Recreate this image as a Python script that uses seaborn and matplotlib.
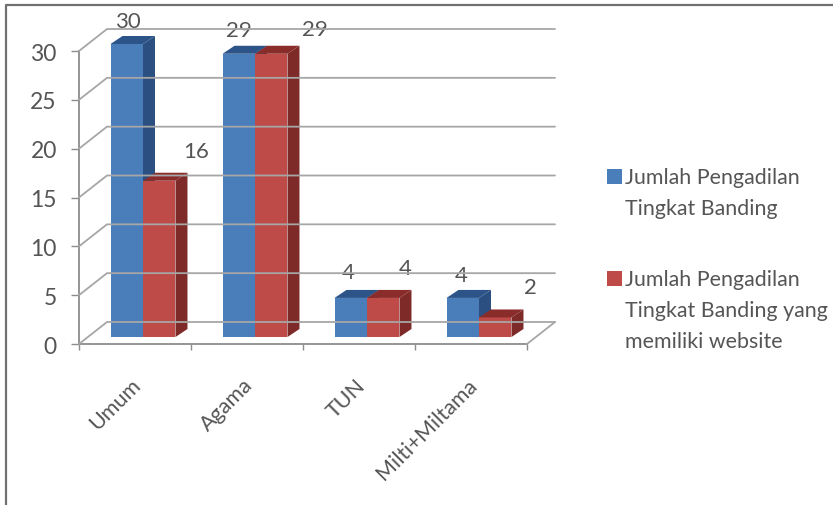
import numpy as np
import pandas as pd
import matplotlib
matplotlib.use('Agg')
import matplotlib.pyplot as plt
import seaborn as sns
from matplotlib.lines import Line2D
from matplotlib.patches import Polygon, Rectangle
from matplotlib.transforms import Affine2D, IdentityTransform

categories = ['Umum', 'Agama', 'TUN', 'Milti+Miltama']
series_names = ['Jumlah Pengadilan Tingkat Banding',
                'Jumlah Pengadilan Tingkat Banding yang memiliki website']
jumlah_banding = [30, 29, 4, 4]
jumlah_website = [16, 29, 4, 2]
legend_labels = ['Jumlah Pengadilan\nTingkat Banding',
                 'Jumlah Pengadilan\nTingkat Banding yang\nmemiliki website']
y_ticks = [0, 5, 10, 15, 20, 25, 30]

W, H = 833, 506
TEXT = '#555555'
AXIS = '#8c8c8c'
GRID = '#a6a6a6'
front_colors = ['#4A7EBB', '#BE4B48']
side_colors = ['#2A4F80', '#7E2A28']
top_colors = ['#2C5488', '#8A2D2A']

# wall depth and bar offset/depth, in pixels
WALL_DX, WALL_DY = 28, 22
BAR_DX, BAR_DY = 8, 7
DEPTH_DX, DEPTH_DY = 12, 8

# where the labels sit relative to the top of each bar, in pixels
label_offsets = [[(1, 23), (0, 24), (-3, 26), (-2, 23)],
                 [(37, 30), (44, 25), (22, 30), (35, 30)]]

sns.set_style('white')
plt.rcParams['font.family'] = ['Lato', 'DejaVu Sans']

df = pd.DataFrame({
    'kategori': categories * 2,
    'seri': [series_names[0]] * 4 + [series_names[1]] * 4,
    'jumlah': jumlah_banding + jumlah_website,
})

fig = plt.figure(figsize=(W / 100, H / 100), dpi=100, facecolor='white')
ax = fig.add_axes([79 / W, (H - 345) / H, 448 / W, 293 / H])
ax.patch.set_alpha(0)

sns.barplot(data=df, x='kategori', y='jumlah', hue='seri', hue_order=series_names,
            palette=front_colors, saturation=1, width=0.58, gap=0, dodge=True,
            legend=False, linewidth=0, ax=ax)
ax.set_xlim(-0.5, 3.5)
ax.set_ylim(0, 30)
ax.set_xlabel('')
ax.set_ylabel('')
sns.despine(ax=ax, top=True, right=True)

for side in ['left', 'bottom']:
    ax.spines[side].set_color(AXIS)
    ax.spines[side].set_linewidth(1.3)

ax.set_yticks(y_ticks)
ax.tick_params(axis='y', length=6, width=1, color=AXIS, labelsize=16.5,
               labelcolor=TEXT, pad=10, left=True)
ax.set_xticks(np.arange(-0.5, 4), minor=True)
ax.tick_params(axis='x', which='minor', length=4, width=1, color=AXIS, bottom=True)
ax.tick_params(axis='x', which='major', length=0, labelsize=15.5, labelcolor=TEXT, pad=27)
for lab in ax.get_xticklabels():
    lab.set_rotation(45)
    lab.set_ha('right')
    lab.set_va('center')
    lab.set_rotation_mode('anchor')
    lab.set_transform(lab.get_transform() + Affine2D().translate(3, 0))


def px(x, y):
    return ax.transData.transform((x, y))


def wall_line(pts, color=GRID, lw=1.3):
    xs, ys = zip(*pts)
    fig.add_artist(Line2D(xs, ys, transform=IdentityTransform(), color=color, lw=lw, zorder=1))


# back wall gridlines and floor
x0 = px(-0.5, 0)[0]
x1 = px(3.5, 0)[0]
for t in y_ticks:
    y = px(0, t)[1]
    wall_line([(x0, y), (x0 + WALL_DX, y + WALL_DY), (x1 + WALL_DX, y + WALL_DY)])
y = px(0, 0)[1]
wall_line([(x1, y), (x1 + WALL_DX, y + WALL_DY)])

# shift the bars onto the floor and give them sides
shift = Affine2D().translate(BAR_DX, BAR_DY)
for i, cont in enumerate(ax.containers):
    for j, bar in enumerate(cont):
        bar.set_transform(ax.transData + shift)
        bar.set_clip_on(False)
        bar.set_zorder(3 + i)
        (xa, ya) = px(bar.get_x(), 0)
        (xb, yb) = px(bar.get_x() + bar.get_width(), bar.get_height())
        xa, xb = xa + BAR_DX, xb + BAR_DX
        ya, yb = ya + BAR_DY, yb + BAR_DY
        ax.add_patch(Polygon([(xb, ya), (xb + DEPTH_DX, ya + DEPTH_DY),
                              (xb + DEPTH_DX, yb + DEPTH_DY), (xb, yb)],
                             transform=IdentityTransform(), fc=side_colors[i], lw=0,
                             clip_on=False, zorder=3 + i))
        ax.add_patch(Polygon([(xa, yb), (xa + DEPTH_DX, yb + DEPTH_DY),
                              (xb + DEPTH_DX, yb + DEPTH_DY), (xb, yb)],
                             transform=IdentityTransform(), fc=top_colors[i], lw=0,
                             clip_on=False, zorder=3 + i))
        ox, oy = label_offsets[i][j]
        ax.annotate(f'{bar.get_height():.0f}',
                    xy=(bar.get_x() + bar.get_width() / 2, bar.get_height()),
                    xytext=(BAR_DX + ox, BAR_DY + oy), textcoords='offset pixels',
                    ha='center', va='center', fontsize=16, color=TEXT, zorder=6,
                    annotation_clip=False)

# legend
legend_y = [(H - 177) / H, (H - 279) / H]
for color, label, ly in zip(front_colors, legend_labels, legend_y):
    fig.add_artist(Rectangle((607 / W, ly - 7.5 / H), 15 / W, 15 / H,
                             transform=fig.transFigure, fc=color, lw=0))
    fig.text(625 / W, ly + 9 / H, label, ha='left', va='top', fontsize=15.4,
             color=TEXT, linespacing=1.68)

# chart frame, only top and left survive in the picture
fig.add_artist(Line2D([6 / W, 6 / W, 1], [0, (H - 6) / H, (H - 6) / H],
                      transform=fig.transFigure, color='#707070', lw=1.6))

fig.savefig('out.png', dpi=100)
